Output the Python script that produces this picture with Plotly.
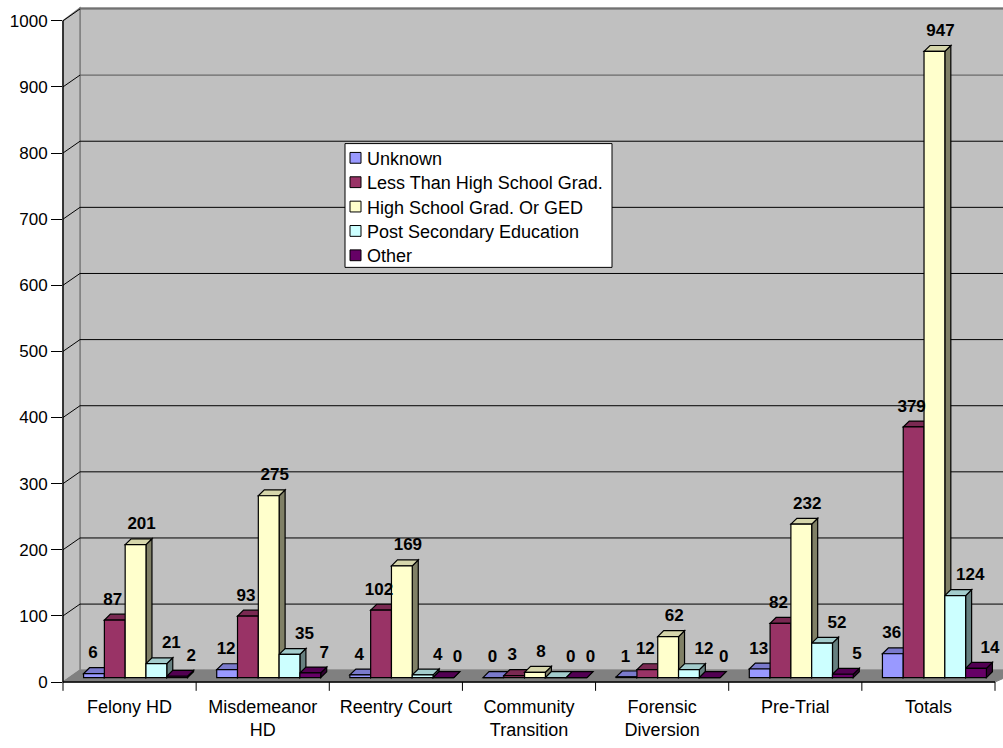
import plotly.graph_objects as go

categories = ["Felony HD", "Misdemeanor<br>HD", "Reentry Court", "Community<br>Transition",
              "Forensic<br>Diversion", "Pre-Trial", "Totals"]
series_names = ["Unknown", "Less Than High School Grad.", "High School Grad. Or GED",
                "Post Secondary Education", "Other"]
unknown = [6, 12, 4, 0, 1, 13, 36]
less_than_hs = [87, 93, 102, 3, 12, 82, 379]
hs_grad_ged = [201, 275, 169, 8, 62, 232, 947]
post_secondary = [21, 35, 4, 0, 12, 52, 124]
other = [2, 7, 0, 0, 0, 5, 14]
series_values = [unknown, less_than_hs, hs_grad_ged, post_secondary, other]
y_ticks = list(range(0, 1001, 100))

front_colors = ["#9999FF", "#993366", "#FFFFCC", "#CCFFFF", "#660066"]
top_colors = ["#7A7ACC", "#7A2952", "#D6D6AB", "#A3CCCC", "#520052"]
side_colors = ["#4D4D80", "#4D1A33", "#808066", "#668080", "#330033"]
label_dx_px = [-4, -5, 3, 12, 11]

FONT = "Arial, Liberation Sans"
W, H = 1003, 748
L, R, T, B = 63, 995, 8, 694          # plot area in pixels
PW, PH = R - L, B - T
YMAX = PH / 0.673
NCAT = len(categories)
PX_X = PW / NCAT                       # pixels per category unit
PX_Y = PH / YMAX                       # pixels per value unit

GROUP = 0.781
BW = GROUP / 5
SHIFT = 6 / PX_X
BASE = 4.5 / PX_Y
DDX = 6 / PX_X
DDY = 6 / PX_Y
WDX, WDY = 17, 12                      # wall depth in pixels


def xp(px):
    return (px - L) / PW


def yp(py):
    return (B - py) / PH


fig = go.Figure()
shapes = []
annotations = []
wall_line = dict(color="#808080", width=1.5)

# back wall
shapes.append(dict(type="rect", xref="paper", yref="paper", layer="below",
                   x0=xp(L + WDX), x1=xp(W + 20), y0=yp(B - WDY), y1=yp(T),
                   fillcolor="#C0C0C0", line=wall_line))
# side wall
shapes.append(dict(type="path", xref="paper", yref="paper", layer="below",
                   path=f"M{xp(L)},{yp(B)} L{xp(L)},{yp(B) + 1000 / YMAX} "
                        f"L{xp(L + WDX)},{yp(T)} L{xp(L + WDX)},{yp(B - WDY)} Z",
                   fillcolor="#C0C0C0", line=wall_line))
# floor
shapes.append(dict(type="path", xref="paper", yref="paper", layer="below",
                   path=f"M{xp(L)},{yp(B)} L{xp(R)},{yp(B)} L{xp(R + WDX + 10)},{yp(B - WDY)} "
                        f"L{xp(L + WDX)},{yp(B - WDY)} Z",
                   fillcolor="#808080", line=dict(color="#808080", width=1)))
# gridlines
for v in y_ticks[1:]:
    yf = v / YMAX
    yb = yf + WDY / PH
    shapes.append(dict(type="line", xref="paper", yref="paper", layer="below",
                       x0=xp(L + WDX), x1=xp(W + 20), y0=yb, y1=yb,
                       line=dict(color="#000000" if v < 900 else "#555555", width=1)))
    shapes.append(dict(type="line", xref="paper", yref="paper", layer="below",
                       x0=0, x1=xp(L + WDX), y0=yf, y1=yb,
                       line=dict(color="#000000", width=1)))

# 3D faces of bars (side + top), drawn from the data
for i in range(NCAT):
    for k, vals in enumerate(series_values):
        c = i + SHIFT + (k - 2) * BW
        xl, xr = c - BW / 2, c + BW / 2
        top = BASE + vals[i]
        shapes.append(dict(type="path", xref="x", yref="y", layer="below",
                           path=f"M{xr},{BASE} L{xr},{top} L{xr + DDX},{top + DDY} "
                                f"L{xr + DDX},{BASE + DDY} Z",
                           fillcolor=side_colors[k], line=dict(color="black", width=1.2)))
        shapes.append(dict(type="path", xref="x", yref="y", layer="below",
                           path=f"M{xl},{top} L{xr},{top} L{xr + DDX},{top + DDY} "
                                f"L{xl + DDX},{top + DDY} Z",
                           fillcolor=top_colors[k], line=dict(color="black", width=1.2)))

# axes lines and ticks
shapes.append(dict(type="line", xref="paper", yref="paper", x0=0, x1=0,
                   y0=0, y1=1000 / YMAX, line=dict(color="black", width=1.3)))
shapes.append(dict(type="line", xref="paper", yref="paper", x0=0, x1=1,
                   y0=0, y1=0, line=dict(color="black", width=1.3)))
for j in range(NCAT + 1):
    shapes.append(dict(type="line", xref="paper", yref="paper", x0=j / NCAT, x1=j / NCAT,
                       y0=0, y1=-9 / PH, line=dict(color="black", width=1)))

# legend box (drawn to match the original compact legend)
LG_L, LG_T, LG_R, LG_B = 345, 146, 612, 272
shapes.append(dict(type="rect", xref="paper", yref="paper", layer="above",
                   x0=xp(LG_L), x1=xp(LG_R), y0=yp(LG_B), y1=yp(LG_T),
                   fillcolor="white", line=dict(color="black", width=1)))
for k, name in enumerate(series_names):
    cy = 160.5 + k * 24.8
    shapes.append(dict(type="rect", xref="paper", yref="paper", layer="above",
                       x0=xp(350), x1=xp(361), y0=yp(cy + 5.5), y1=yp(cy - 5.5),
                       fillcolor=front_colors[k], line=dict(color="black", width=1)))
    annotations.append(dict(xref="paper", yref="paper", x=xp(365), y=yp(cy + 1),
                            xanchor="left", yanchor="middle", showarrow=False,
                            text=name, font=dict(family=FONT, size=18, color="black")))

xs = list(range(NCAT))
for k, (name, vals) in enumerate(zip(series_names, series_values)):
    fig.add_trace(go.Bar(
        name=name, x=[x + SHIFT for x in xs], y=vals, base=[BASE] * NCAT,
        marker=dict(color=front_colors[k], line=dict(color="black", width=1.2)),
    ))

for k, vals in enumerate(series_values):
    fig.add_trace(go.Scatter(
        x=[i + SHIFT + (k - 2) * BW + DDX / 2 + label_dx_px[k] / PX_X for i in xs],
        y=[BASE + v + 20 / PX_Y for v in vals],
        text=[str(v) for v in vals], mode="text", showlegend=False, hoverinfo="skip",
        textfont=dict(family=FONT, size=17, color="black", weight="bold"),
        cliponaxis=False,
    ))

fig.update_layout(
    width=W, height=H,
    margin=dict(l=L, r=W - R, t=T, b=H - B),
    paper_bgcolor="white", plot_bgcolor="rgba(0,0,0,0)",
    barmode="group", bargap=1 - GROUP, bargroupgap=0,
    font=dict(family=FONT, color="black"),
    shapes=shapes,
    annotations=annotations,
    showlegend=False,
    xaxis=dict(range=[-0.5, NCAT - 0.5], tickvals=xs, ticktext=categories,
               showgrid=False, zeroline=False, showline=False,
               ticks="outside", ticklen=8, tickcolor="rgba(0,0,0,0)",
               tickfont=dict(size=18)),
    yaxis=dict(range=[0, YMAX], tickvals=y_ticks, showgrid=False, zeroline=False,
               showline=False, ticks="outside", ticklen=11, tickcolor="black",
               tickfont=dict(size=17)),
)

fig.write_html("out.html")
